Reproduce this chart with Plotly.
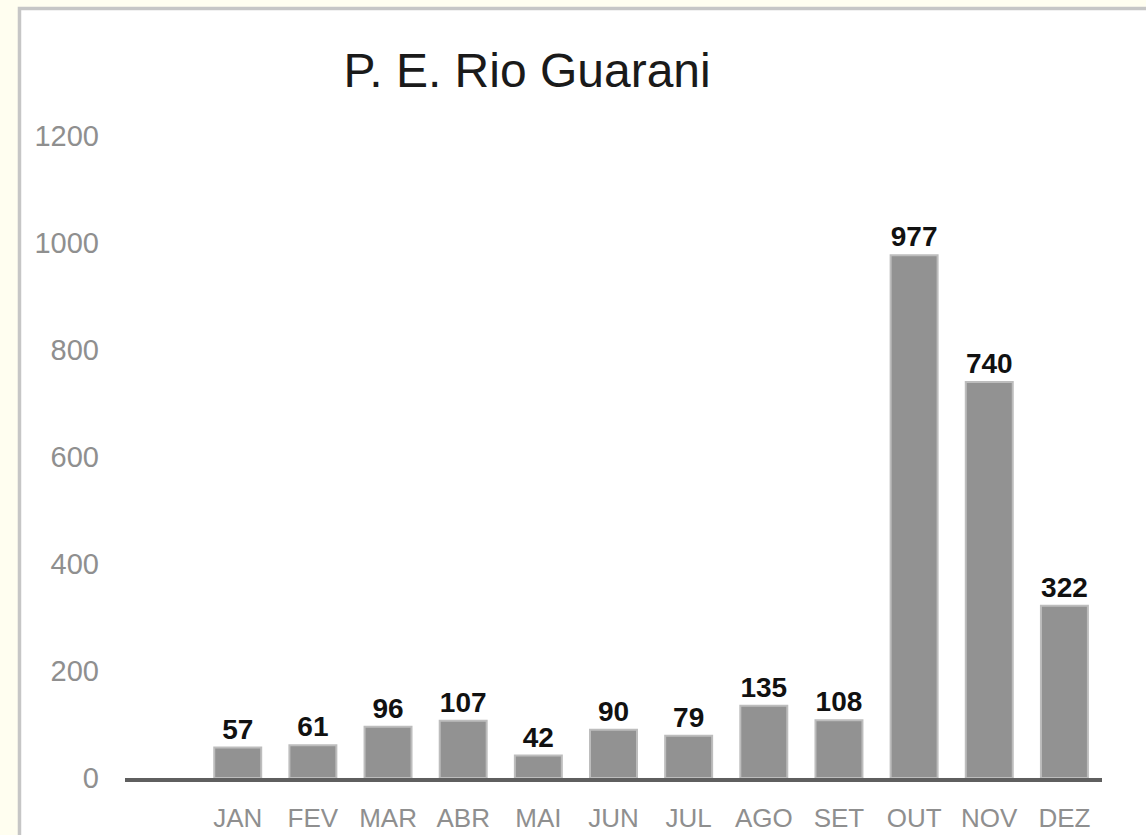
import plotly.graph_objects as go

months = ["JAN", "FEV", "MAR", "ABR", "MAI", "JUN", "JUL", "AGO", "SET", "OUT", "NOV", "DEZ"]
visits = [57, 61, 96, 107, 42, 90, 79, 135, 108, 977, 740, 322]
y_ticks = [0, 200, 400, 600, 800, 1000, 1200]
title = "P. E. Rio Guarani"

# empty slot in front of JAN, as in the original sheet
categories = [" "] + months

fig = go.Figure(
    go.Bar(
        x=months,
        y=visits,
        text=visits,
        textposition="outside",
        textfont=dict(family="Liberation Sans", size=28, color="#111111", weight="bold"),
        marker=dict(color="#929292", line=dict(color="#bdbdbd", width=2)),
        cliponaxis=False,
    )
)

fig.update_layout(
    width=1146,
    height=835,
    margin=dict(l=125, r=44, t=136, b=57),
    paper_bgcolor="#fffef0",
    plot_bgcolor="rgba(0,0,0,0)",
    bargap=0.375,
    showlegend=False,
    title=dict(
        text=title,
        font=dict(family="Liberation Sans", size=48, color="#1a1a1a"),
        x=0.4115, xref="paper", xanchor="center",
        y=0.9156, yref="container", yanchor="middle",
    ),
    xaxis=dict(
        type="category",
        categoryorder="array",
        categoryarray=categories,
        range=[-0.5, 12.5],
        automargin=False,
        showgrid=False,
        showline=True,
        linecolor="#5f5f5f",
        linewidth=4,
        ticks="",
        ticklabelstandoff=14,
        tickfont=dict(family="Liberation Sans", size=26, color="#8f8f8f"),
    ),
    yaxis=dict(
        range=[0, 1200],
        tickvals=y_ticks,
        automargin=False,
        showgrid=False,
        zeroline=False,
        showline=False,
        ticks="",
        ticklabelstandoff=25,
        tickfont=dict(family="Liberation Sans", size=29, color="#8f8f8f"),
    ),
    shapes=[
        # white chart area with its grey frame
        dict(
            type="rect", xref="paper", yref="paper",
            x0=-0.108, x1=1.2, y0=-0.3, y1=1.1986,
            fillcolor="white", line=dict(color="#c6c6c6", width=3.5),
            layer="below",
        )
    ],
)

fig.write_html(
    "out.html",
    config={"displayModeBar": False},
    post_script="document.body.style.margin='0';document.body.style.background='#fffef0';",
)
